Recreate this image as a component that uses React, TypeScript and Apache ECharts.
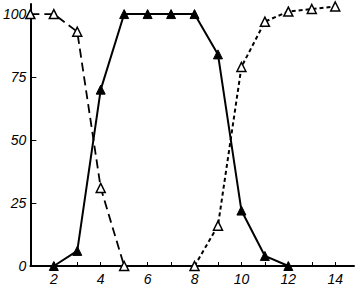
import React, { useEffect, useRef } from "react";
import * as echarts from "echarts";

const xValues = [1, 2, 3, 4, 5, 6, 7, 8, 9, 10, 11, 12, 13, 14];
const dashedSeries: [number, number][] = [
  [1, 100], [2, 100], [3, 93], [4, 31], [5, 0],
];
const solidSeries: [number, number][] = [
  [2, 0], [3, 6], [4, 70], [5, 100], [6, 100], [7, 100], [8, 100],
  [9, 84], [10, 22], [11, 4], [12, 0],
];
const dottedSeries: [number, number][] = [
  [8, 0], [9, 16], [10, 79], [11, 97], [12, 101], [13, 102], [14, 103],
];
const yTicks = [0, 25, 50, 75, 100];

export default function App() {
  const ref = useRef<HTMLDivElement>(null);
  useEffect(() => {
    if (!ref.current) return;
    const chart = echarts.init(ref.current, undefined, { renderer: "svg" });
    const labelFont = {
      color: "#000",
      fontSize: 14,
      fontStyle: "italic" as const,
      fontFamily: "Liberation Sans",
    };
    const openTri = { color: "#fff", borderColor: "#000", borderWidth: 1.5 };
    chart.setOption({
      animation: false,
      backgroundColor: "#fff",
      grid: { left: 28, top: 4, right: 1, bottom: 23 },
      xAxis: {
        type: "value",
        min: xValues[0],
        max: 14.8,
        interval: 1,
        splitLine: { show: false },
        axisLine: { lineStyle: { color: "#000", width: 2 } },
        axisTick: { inside: true, length: 4, lineStyle: { color: "#000" } },
        axisLabel: {
          ...labelFont,
          margin: 6,
          showMaxLabel: false,
          formatter: (v: number) =>
            Number.isInteger(v) && v % 2 === 0 ? String(v) : "",
        },
      },
      yAxis: {
        type: "value",
        min: 0,
        max: 104,
        interval: 25,
        splitLine: { show: false },
        axisLine: { show: true, lineStyle: { color: "#000", width: 2 } },
        axisTick: { show: true, inside: true, length: 6, lineStyle: { color: "#000" } },
        axisLabel: {
          ...labelFont,
          margin: 4,
          showMaxLabel: false,
          formatter: (v: number) => (yTicks.includes(v) ? String(v) : ""),
        },
      },
      series: [
        {
          type: "line",
          data: dashedSeries,
          symbol: "triangle",
          symbolSize: 9,
          lineStyle: { color: "#000", width: 1.8, type: [9, 5] },
          itemStyle: openTri,
          z: 3,
        },
        {
          type: "line",
          data: solidSeries,
          symbol: "triangle",
          symbolSize: 9,
          lineStyle: { color: "#000", width: 2 },
          itemStyle: { color: "#000", borderColor: "#000" },
          z: 2,
        },
        {
          type: "line",
          data: dottedSeries,
          symbol: "triangle",
          symbolSize: 9,
          lineStyle: { color: "#000", width: 2, type: [4, 3] },
          itemStyle: openTri,
          z: 3,
        },
      ],
    });
    return () => chart.dispose();
  }, []);
  return (
    <div
      ref={ref}
      style={{ position: "fixed", left: 0, top: 0, width: 355, height: 289, background: "#fff" }}
    />
  );
}
